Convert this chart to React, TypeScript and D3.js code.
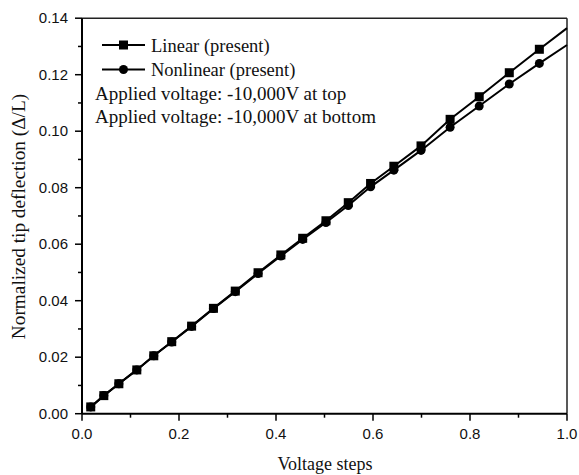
import React from "react";
import * as d3 from "d3";

const xSteps = [0.018, 0.045, 0.076, 0.113, 0.148, 0.185, 0.226, 0.271, 0.316, 0.363, 0.41, 0.455, 0.503, 0.549, 0.595, 0.643, 0.699, 0.759, 0.819, 0.881, 0.943, 1.0];
const linearValues = [0.0024, 0.0064, 0.0106, 0.0155, 0.0205, 0.0255, 0.031, 0.0373, 0.0434, 0.0499, 0.0562, 0.0621, 0.0683, 0.0747, 0.0815, 0.0876, 0.0948, 0.1042, 0.1122, 0.1207, 0.129, 0.1365];
const nonlinearValues = [0.0024, 0.0064, 0.0106, 0.0155, 0.0205, 0.0254, 0.0309, 0.0372, 0.0432, 0.0496, 0.0558, 0.0617, 0.0677, 0.0737, 0.0803, 0.0862, 0.0932, 0.1014, 0.1089, 0.1167, 0.124, 0.1305];
const xTicks = [0, 0.2, 0.4, 0.6, 0.8, 1.0];
const xMinor = [0.1, 0.3, 0.5, 0.7, 0.9];
const yTicks = [0, 0.02, 0.04, 0.06, 0.08, 0.1, 0.12, 0.14];
const yMinor = [0.01, 0.03, 0.05, 0.07, 0.09, 0.11, 0.13];
const seriesNames = ["Linear (present)", "Nonlinear (present)"];
const notes = ["Applied voltage: -10,000V at top", "Applied voltage: -10,000V at bottom"];
const xTitle = "Voltage steps";
const yTitle = "Normalized tip deflection (\u0394/L)";

const W = 579, H = 475;
const L = 82, R = 567, T = 18.2, B = 413.7;
const serif = "'Liberation Serif', 'Times New Roman', serif";
const sans = "'Liberation Sans', Arial, sans-serif";

export default function App() {
  const x = d3.scaleLinear().domain([0, 1]).range([L, R]);
  const y = d3.scaleLinear().domain([0, 0.14]).range([B, T]);
  const lin = xSteps.map((v, i) => [v, linearValues[i]] as [number, number]);
  const non = xSteps.map((v, i) => [v, nonlinearValues[i]] as [number, number]);
  const line = d3.line<[number, number]>().x(d => x(d[0])).y(d => y(d[1]));
  const ms = 9;
  return (
    <svg width={W} height={H} style={{ position: "absolute", left: 0, top: 0, background: "#fff" }}>
      <rect x={0} y={0} width={W} height={H} fill="#fff" />
      {/* frame */}
      <line x1={L} x2={R} y1={T} y2={T} stroke="#222" strokeWidth={1.5} />
      <line x1={R} x2={R} y1={T} y2={B} stroke="#222" strokeWidth={1.5} />
      {/* data */}
      <path d={line(lin) || ""} fill="none" stroke="#000" strokeWidth={2} />
      <path d={line(non) || ""} fill="none" stroke="#000" strokeWidth={2} />
      {lin.filter(d => d[0] < 1).map((d, i) => (
        <rect key={"s" + i} x={x(d[0]) - ms / 2} y={y(d[1]) - ms / 2} width={ms} height={ms} fill="#000" />
      ))}
      {non.filter(d => d[0] < 1).map((d, i) => (
        <circle key={"c" + i} cx={x(d[0])} cy={y(d[1])} r={ms / 2} fill="#000" />
      ))}
      {/* axes */}
      <line x1={L} x2={R} y1={B} y2={B} stroke="#000" strokeWidth={2} />
      <line x1={L} x2={L} y1={T} y2={B} stroke="#000" strokeWidth={2} />
      {xTicks.map(t => (
        <g key={"xt" + t}>
          <line x1={x(t)} x2={x(t)} y1={B} y2={B + 7} stroke="#000" strokeWidth={1.5} />
          <text x={x(t)} y={439} textAnchor="middle" fontFamily={sans} fontSize={15} fill="#111">{t.toFixed(1)}</text>
        </g>
      ))}
      {xMinor.map(t => (
        <line key={"xm" + t} x1={x(t)} x2={x(t)} y1={B} y2={B + 4} stroke="#000" strokeWidth={1.5} />
      ))}
      {yTicks.map(t => (
        <g key={"yt" + t}>
          <line x1={L - 7} x2={L} y1={y(t)} y2={y(t)} stroke="#000" strokeWidth={1.5} />
          <text x={68} y={y(t) + 5} textAnchor="end" fontFamily={sans} fontSize={15} fill="#111">{t.toFixed(2)}</text>
        </g>
      ))}
      {yMinor.map(t => (
        <line key={"ym" + t} x1={L - 4} x2={L} y1={y(t)} y2={y(t)} stroke="#000" strokeWidth={1.5} />
      ))}
      {/* titles */}
      <text x={325} y={470} textAnchor="middle" fontFamily={serif} fontSize={18} fill="#111">{xTitle}</text>
      <text transform={`translate(24.5, 216.5) rotate(-90)`} textAnchor="middle" fontFamily={serif} fontSize={19.3} fill="#111">{yTitle}</text>
      {/* legend */}
      {seriesNames.map((name, i) => {
        const ly = 45 + i * 24.5;
        return (
          <g key={name}>
            <line x1={102} x2={145} y1={ly} y2={ly} stroke="#000" strokeWidth={2} />
            {i === 0 ? (
              <rect x={123.5 - ms / 2} y={ly - ms / 2} width={ms} height={ms} fill="#000" />
            ) : (
              <circle cx={123.5} cy={ly} r={ms / 2} fill="#000" />
            )}
            <text x={151} y={ly + 6.5} fontFamily={serif} fontSize={18.5} fill="#111">{name}</text>
          </g>
        );
      })}
      {notes.map((n, i) => (
        <text key={n} x={95} y={99.5 + i * 23.5} fontFamily={serif} fontSize={19} fill="#111">{n}</text>
      ))}
    </svg>
  );
}
